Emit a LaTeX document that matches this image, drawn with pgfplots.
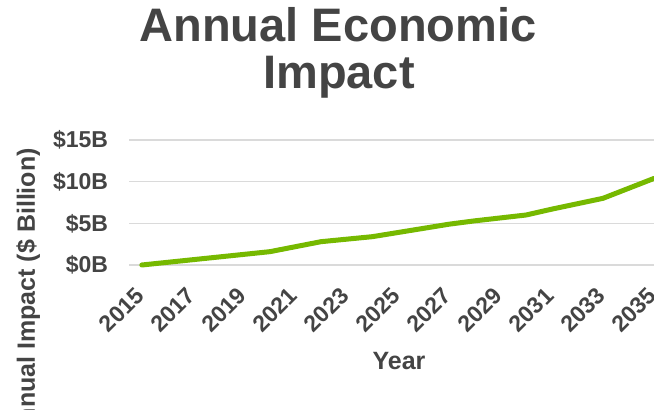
\documentclass[border=0pt]{standalone}
\usepackage{fontspec}
\setmainfont{Liberation Sans}
\usepackage{pgfplots}
\pgfplotsset{compat=1.18}
\definecolor{txt}{HTML}{444444}
\definecolor{gridc}{HTML}{DADADA}
\definecolor{lineg}{HTML}{76B900}
\begin{document}
\begin{tikzpicture}[x=1pt,y=1pt]
\path[use as bounding box, fill=white] (0,0) rectangle (654,410);
\clip (0,0) rectangle (654,410);
\begin{axis}[
  at={(129pt,145pt)}, anchor=south west,
  scale only axis, width=538pt, height=125pt,
  xmin=2014.5, xmax=2035.5, ymin=0, ymax=15,
  axis line style={draw=none},
  major tick length=0pt,
  ymajorgrids, grid style={color=gridc, line width=1.3pt},
  ytick={0,5,10,15},
  yticklabels={\$0B,\$5B,\$10B,\$15B},
  xtick={2015,2017,2019,2021,2023,2025,2027,2029,2031,2033,2035},
  xticklabels={2015,2017,2019,2021,2023,2025,2027,2029,2031,2033,2035},
  every tick label/.append style={font=\fontsize{23}{25}\selectfont\bfseries, text=txt, inner sep=0pt},
  yticklabel style={anchor=east, xshift=-20.7pt},
  xticklabel style={xshift=-8pt, yshift=-21pt, rotate=45, anchor=north east},
  clip=false,
]
\addplot[color=lineg, line width=5pt, line cap=round, line join=round] coordinates {
(2015,0) (2016,0.32) (2017,0.64) (2018,0.96) (2019,1.28) (2020,1.6)
(2021,2.2) (2022,2.8) (2023,3.1) (2024,3.4) (2025,3.9) (2026,4.4)
(2027,4.9) (2028,5.3) (2029,5.65) (2030,6.0) (2031,6.7) (2032,7.35)
(2033,8.0) (2034,9.2) (2035,10.4)
};
\end{axis}
\node[anchor=base, inner sep=0pt, text=txt, font=\fontsize{47}{49}\selectfont\bfseries] at (338,368.3) {Annual Economic};
\node[anchor=base, inner sep=0pt, text=txt, font=\fontsize{47}{49}\selectfont\bfseries] at (339,321.7) {Impact};
\node[anchor=base, inner sep=0pt, text=txt, font=\fontsize{25}{27}\selectfont\bfseries] at (399,40.7) {Year};
\node[anchor=base east, rotate=90, inner sep=0pt, text=txt, font=\fontsize{25}{27}\selectfont\bfseries] at (35,262) {Annual Impact (\$ Billion)};
\end{tikzpicture}
\end{document}
